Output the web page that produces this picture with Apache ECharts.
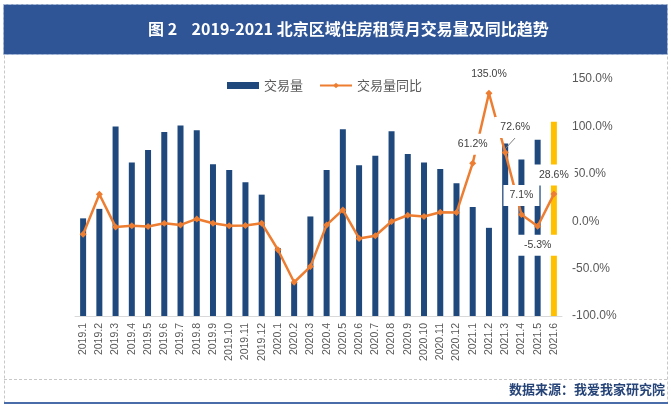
<!DOCTYPE html>
<html>
<head>
<meta charset="utf-8">
<script src="https://cdn.jsdelivr.net/npm/echarts@6/dist/echarts.min.js"></script>
<style>
html,body{margin:0;padding:0;background:#fff;}
#c{width:671px;height:406px;}
</style>
</head>
<body>
<div id="c"></div>
<script>
const categories = ['2019.1','2019.2','2019.3','2019.4','2019.5','2019.6','2019.7','2019.8','2019.9','2019.10','2019.11','2019.12',
  '2020.1','2020.2','2020.3','2020.4','2020.5','2020.6','2020.7','2020.8','2020.9','2020.10','2020.11','2020.12',
  '2021.1','2021.2','2021.3','2021.4','2021.5','2021.6'];
const volume = [10300, 11300, 20000, 16200, 17500, 19400, 20100, 19600, 16000, 15400, 14100, 12800,
  7150, 3580, 10500, 15400, 19700, 15900, 16900, 19500, 17100, 16200, 15500, 14000,
  11500, 9300, 18200, 16500, 18600, 20500];
const yoy = [-13.7, 28.4, -6.0, -4.9, -5.6, -2.1, -3.9, 2.4, -2.1, -4.9, -4.5, -2.1,
  -30.1, -64.4, -47.9, -3.9, 11.9, -18.2, -15.4, -0.3, 6.3, 4.9, 9.5, 9.1,
  61.2, 135.0, 72.6, 7.1, -5.3, 28.6];
const seriesNames = ['交易量', '交易量同比'];
const titleText = '图 2    2019-2021 北京区域住房租赁月交易量及同比趋势';
const sourceText = '数据来源：我爱我家研究院';

const BLUE = '#1F497D', GOLD = '#FFC000', ORANGE = '#ED7D31', GRAY = '#595959';
const lastIdx = categories.length - 1;
const labelStart = categories.length - 6;

const lineData = yoy.map((v, i) => {
  if (i < labelStart) return v;
  const item = { value: v, label: { show: true } };
  if (v < 0) item.label.position = 'bottom';
  if (i === labelStart + 2) {
    item.labelLine = { show: true, lineStyle: { color: '#7f7f7f', width: 1 } };
  }
  return item;
});

const chart = echarts.init(document.getElementById('c'), null, { renderer: 'canvas' });
chart.setOption({
  backgroundColor: '#fff',
  animation: false,
  graphic: [
    { type: 'rect', z: 0, shape: { x: 4.5, y: 4.5, width: 663, height: 399 },
      style: { fill: 'none', stroke: '#c8c8c8', lineWidth: 1, lineDash: [3, 2] } },
    { type: 'rect', z: 1, shape: { x: 3.5, y: 4.5, width: 664, height: 50 },
      style: { fill: '#2F5597', stroke: '#a9bcdc', lineWidth: 1, lineDash: [3, 2] } },
    { type: 'text', z: 2, left: 148, top: 21,
      style: { text: titleText, fill: '#fff', font: 'bold 16px "Noto Sans CJK SC", sans-serif' } },
    { type: 'line', z: 1, shape: { x1: 4, y1: 379.5, x2: 667, y2: 379.5 },
      style: { stroke: '#c8c8c8', lineWidth: 1, lineDash: [3, 2] } },
    { type: 'line', z: 2, shape: { x1: 4, y1: 403, x2: 668, y2: 403 },
      style: { stroke: '#4A6DAA', lineWidth: 2 } },
    { type: 'text', z: 2, right: 6, top: 383,
      style: { text: sourceText, fill: '#264478', font: 'bold 13px "Noto Sans CJK SC", sans-serif' } }
  ],
  legend: {
    top: 74, left: 222,
    itemWidth: 32, itemHeight: 7, itemGap: 16,
    textStyle: { color: GRAY, fontSize: 13, fontFamily: '"Noto Sans CJK SC", sans-serif' },
    data: [
      { name: seriesNames[0], icon: 'rect', itemStyle: { color: BLUE } },
      { name: seriesNames[1] }
    ]
  },
  grid: { left: 75, right: 109, top: 79, bottom: 90, containLabel: false },
  xAxis: {
    type: 'category', data: categories, boundaryGap: true,
    axisLine: { lineStyle: { color: '#d9d9d9' } },
    axisTick: { show: false },
    axisLabel: { rotate: 90, interval: 0, margin: 7, color: GRAY, fontSize: 10.5,
      fontFamily: '"Liberation Sans", Arial, sans-serif' }
  },
  yAxis: [
    { type: 'value', min: 0, max: 25000, show: false, splitLine: { show: false } },
    { type: 'value', position: 'right', min: -100, max: 150, interval: 50,
      axisLine: { show: false }, axisTick: { show: false }, splitLine: { show: false },
      axisLabel: { margin: 10, color: GRAY, fontSize: 12, fontFamily: '"Liberation Sans", Arial, sans-serif',
        formatter: v => v.toFixed(1) + '%' } }
  ],
  series: [
    { name: seriesNames[0], type: 'bar', yAxisIndex: 0, barWidth: 6, data: volume,
      itemStyle: { color: p => p.dataIndex === lastIdx ? GOLD : BLUE } },
    { name: seriesNames[1], type: 'line', yAxisIndex: 1, data: lineData,
      z: 3,
      symbol: 'diamond', symbolSize: 7,
      lineStyle: { color: ORANGE, width: 2.5 },
      itemStyle: { color: ORANGE },
      label: { show: false, position: 'top', color: '#404040', fontSize: 10.5,
        fontFamily: '"Liberation Sans", Arial, sans-serif',
        backgroundColor: '#fff', padding: [5, 6],
        formatter: p => p.value.toFixed(1) + '%' },
      labelLayout: p => (p.dataIndex === labelStart + 2 ? { dx: 10, dy: -6 } : {})
    }
  ]
});
</script>
</body>
</html>
